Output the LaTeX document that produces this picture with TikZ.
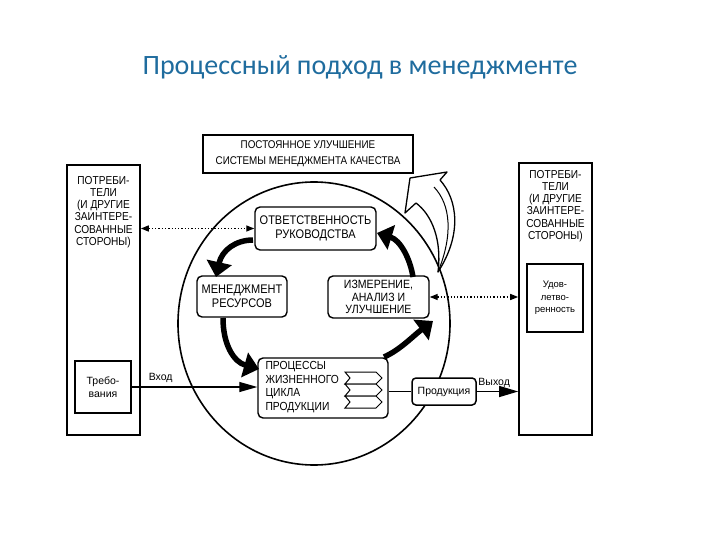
\documentclass[tikz,border=0pt]{standalone}
\usepackage{fontspec}
\setmainfont{Liberation Sans}
\newfontfamily\titlefont{Carlito}
\newfontfamily\narrowfont[FakeStretch=0.88]{Liberation Sans}
\usepackage{tikz}
\usetikzlibrary{shapes.geometric,arrows.meta,positioning,calc}
\definecolor{titleblue}{RGB}{31,108,158}

\begin{document}
\begin{tikzpicture}[
    x=1pt, y=-1pt,
    bigbox/.style={rectangle, draw, line width=1.6pt, fill=white, inner sep=0pt},
    smallbox/.style={rectangle, draw, line width=1.5pt, fill=white, inner sep=0pt, align=center, font=\fontsize{10.5}{12.5}\selectfont},
    roundbox/.style={rectangle, draw, line width=1.4pt, rounded corners=5pt, fill=white, inner sep=0pt, align=center, font=\narrowfont\fontsize{12.5}{13.5}\selectfont},
    caps/.style={align=center, font=\narrowfont\fontsize{11.5}{12.2}\selectfont},
    flow/.style={line width=1.2pt, -{Triangle[length=18pt,width=10pt]}},
    dotarrow/.style={line width=1.3pt, dotted, {Triangle[length=8pt,width=6pt]}-{Triangle[length=8pt,width=6pt]}},
    bigarrow/.style={line width=5.5pt, -{Triangle[length=15pt,width=25pt]}},
    chevron/.style={draw, line width=1pt, fill=white}
]
    \useasboundingbox (0,0) rectangle (720,540);

    \node[font=\titlefont\fontsize{28}{32}\selectfont, text=titleblue] (title) at (360,67) {Процессный подход в менеджменте};

    % customers on both sides
    \node[bigbox, minimum width=73, minimum height=270] (lcust) at (103.5,300) {};
    \node[caps] (lcusttxt) at (103.5,212) {ПОТРЕБИ-\\ТЕЛИ\\(И ДРУГИЕ\\ЗАИНТЕРЕ-\\СОВАННЫЕ\\СТОРОНЫ)};
    \node[smallbox, minimum width=56, minimum height=52] (req) at (103,387) {Требо-\\вания};

    \node[bigbox, minimum width=73, minimum height=272] (rcust) at (555.5,299) {};
    \node[caps] (rcusttxt) at (555.5,206) {ПОТРЕБИ-\\ТЕЛИ\\(И ДРУГИЕ\\ЗАИНТЕРЕ-\\СОВАННЫЕ\\СТОРОНЫ)};
    \node[smallbox, minimum width=56, minimum height=68, font=\fontsize{9.5}{12.5}\selectfont] (sat) at (555,298) {Удов-\\летво-\\ренность};

    \node[rectangle, draw, line width=1.3pt, minimum width=210, minimum height=38, align=center, font=\narrowfont\fontsize{11.2}{16}\selectfont] (improve) at (308,154) {ПОСТОЯННОЕ УЛУЧШЕНИЕ\\СИСТЕМЫ МЕНЕДЖМЕНТА КАЧЕСТВА};

    % the cycle
    \node[draw, ellipse, line width=1.6pt, minimum width=272, minimum height=283] (cycle) at (314,323.5) {};

    \node[roundbox, minimum width=121, minimum height=43] (resp) at (315.5,228.5) {ОТВЕТСТВЕННОСТЬ\\РУКОВОДСТВА};
    \node[roundbox, minimum width=90, minimum height=41] (res) at (242,296.5) {МЕНЕДЖМЕНТ\\РЕСУРСОВ};
    \node[roundbox, minimum width=101, minimum height=42, font=\narrowfont\fontsize{12}{12.8}\selectfont] (meas) at (378.5,297) {ИЗМЕРЕНИЕ,\\АНАЛИЗ И\\УЛУЧШЕНИЕ};
    \node[roundbox, minimum width=130, minimum height=60] (proc) at (323,388) {};
    \node[align=left, anchor=west, font=\narrowfont\fontsize{11.7}{13.7}\selectfont] (proctxt) at (262,387) {ПРОЦЕССЫ\\ЖИЗНЕННОГО\\ЦИКЛА\\ПРОДУКЦИИ};
    \foreach \k in {0,1,2}
        \draw[chevron] (345,{372+12*\k}) -- ++(31,0) -- ++(6,6) -- ++(-6,6) -- ++(-31,0) -- ++(5,-6) -- cycle;

    \node[smallbox, rounded corners=4pt, minimum width=64, minimum height=27] (prod) at (444,391.5) {Продукция};

    % inputs and outputs
    \draw[flow] (req.east) -- node[pos=0.23, above, font=\fontsize{10.5}{12}\selectfont] {Вход} (req.east -| proc.west);
    \draw[line width=1.2pt] (prod.west -| proc.east) -- (prod.west);
    \draw[flow, -{Triangle[length=19pt,width=11pt]}] (prod.east) -- node[pos=0.42, above, font=\fontsize{10.5}{12}\selectfont] {Выход} (prod.east -| rcust.west);
    \draw[dotarrow] (lcust.east |- resp.west) -- (resp.west);
    \draw[dotarrow] (meas.east) -- (meas.east -| rcust.west);

    % big arrows round the cycle
    \draw[bigarrow] (253,240) .. controls (236,240) and (222,250) .. (216,277);
    \draw[bigarrow] (223,318) .. controls (223,345) and (234,362) .. (259,369);
    \draw[bigarrow] (384,357) .. controls (400,350) and (413,336) .. (433,321);
    \draw[bigarrow] (413,277) .. controls (410,258) and (400,240) .. (377,233);

    % hollow improvement arrow
    \draw[line width=1.3pt, fill=white, line join=round] (438,272) .. controls (462,235) and (458,200) .. (440,180) -- (447,172) -- (410,178) -- (405,213) -- (416,203) .. controls (432,215) and (442,240) .. (438,272) -- cycle;
    \draw[line width=1pt] (438,272) .. controls (453,235) and (451,205) .. (434,187);
\end{tikzpicture}
\end{document}
